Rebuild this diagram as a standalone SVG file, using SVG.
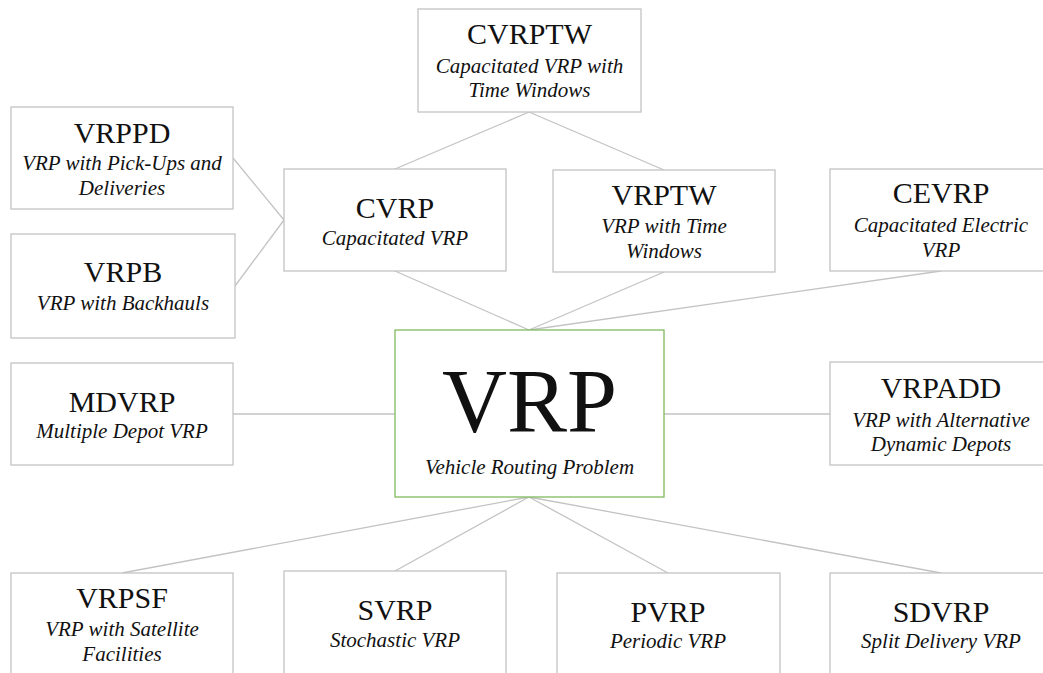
<svg xmlns="http://www.w3.org/2000/svg" width="1043" height="673" viewBox="0 0 1043 673">
<style>
.box{fill:#fff;stroke:#c3c3c3;stroke-width:1.3}
.main{fill:#fff;stroke:#82bb5e;stroke-width:1.3}
.t{font-family:"Liberation Serif","Times New Roman",serif;font-size:30px;fill:#111;text-anchor:middle}
.s{font-family:"Liberation Serif","Times New Roman",serif;font-size:21px;font-style:italic;fill:#111;text-anchor:middle}
.big{font-family:"Liberation Serif","Times New Roman",serif;font-size:90px;fill:#111;text-anchor:middle}
.c line{stroke:#c3c3c3;stroke-width:1.3}
</style>
<rect width="1043" height="673" fill="#fff"/>
<g class="c" id="connectors">
<line x1="529" y1="112" x2="395" y2="169"/>
<line x1="529" y1="112" x2="664" y2="170"/>
<line x1="233" y1="158" x2="284" y2="220"/>
<line x1="235" y1="286" x2="284" y2="220"/>
<line x1="395" y1="271" x2="529" y2="330"/>
<line x1="664" y1="272" x2="529" y2="330"/>
<line x1="941" y1="271" x2="529" y2="330"/>
<line x1="233" y1="414" x2="395" y2="414"/>
<line x1="664" y1="414" x2="830" y2="414"/>
<line x1="529" y1="497" x2="122" y2="573"/>
<line x1="529" y1="497" x2="395" y2="571"/>
<line x1="529" y1="497" x2="668" y2="573"/>
<line x1="529" y1="497" x2="941" y2="573"/>
</g>
<g id="cvrptw">
<rect class="box" x="418" y="9" width="223" height="103"/>
<text class="t" x="529.5" y="44">CVRPTW</text>
<text class="s" x="529.5" y="73">Capacitated VRP with</text>
<text class="s" x="529.5" y="97">Time Windows</text>
</g>
<g id="vrppd">
<rect class="box" x="11" y="107" width="222" height="102"/>
<text class="t" x="122" y="143">VRPPD</text>
<text class="s" x="122" y="170">VRP with Pick-Ups and</text>
<text class="s" x="122" y="195">Deliveries</text>
</g>
<g id="vrpb">
<rect class="box" x="11" y="234" width="224" height="104"/>
<text class="t" x="123" y="282">VRPB</text>
<text class="s" x="123" y="310">VRP with Backhauls</text>
</g>
<g id="cvrp">
<rect class="box" x="284" y="169" width="222" height="102"/>
<text class="t" x="395" y="218">CVRP</text>
<text class="s" x="395" y="245">Capacitated VRP</text>
</g>
<g id="vrptw">
<rect class="box" x="553" y="170" width="222" height="102"/>
<text class="t" x="664" y="205">VRPTW</text>
<text class="s" x="664" y="233">VRP with Time</text>
<text class="s" x="664" y="258">Windows</text>
</g>
<g id="cevrp">
<rect class="box" x="830" y="169" width="222" height="102"/>
<text class="t" x="941" y="203">CEVRP</text>
<text class="s" x="941" y="232">Capacitated Electric</text>
<text class="s" x="941" y="257">VRP</text>
</g>
<g id="vrp">
<rect class="main" x="395" y="330" width="269" height="167"/>
<text class="big" x="529.5" y="432">VRP</text>
<text class="s" x="529.5" y="474">Vehicle Routing Problem</text>
</g>
<g id="mdvrp">
<rect class="box" x="11" y="363" width="222" height="102"/>
<text class="t" x="122" y="412">MDVRP</text>
<text class="s" x="122" y="438">Multiple Depot VRP</text>
</g>
<g id="vrpadd">
<rect class="box" x="830" y="362" width="222" height="103"/>
<text class="t" x="941" y="398">VRPADD</text>
<text class="s" x="941" y="427">VRP with Alternative</text>
<text class="s" x="941" y="451">Dynamic Depots</text>
</g>
<g id="vrpsf">
<rect class="box" x="11" y="573" width="222" height="102"/>
<text class="t" x="122" y="608">VRPSF</text>
<text class="s" x="122" y="636">VRP with Satellite</text>
<text class="s" x="122" y="661">Facilities</text>
</g>
<g id="svrp">
<rect class="box" x="284" y="571" width="222" height="104"/>
<text class="t" x="395" y="620">SVRP</text>
<text class="s" x="395" y="647">Stochastic VRP</text>
</g>
<g id="pvrp">
<rect class="box" x="557" y="573" width="223" height="102"/>
<text class="t" x="668" y="622">PVRP</text>
<text class="s" x="668" y="648">Periodic VRP</text>
</g>
<g id="sdvrp">
<rect class="box" x="830" y="573" width="222" height="102"/>
<text class="t" x="941" y="622">SDVRP</text>
<text class="s" x="941" y="648">Split Delivery VRP</text>
</g>
</svg>
